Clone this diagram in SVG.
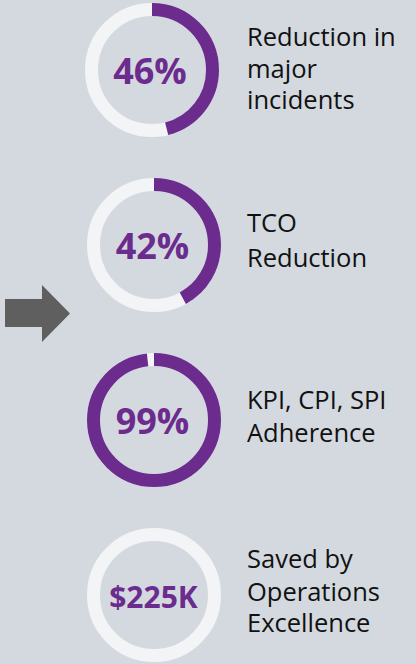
<svg xmlns="http://www.w3.org/2000/svg" width="416" height="664" viewBox="0 0 416 664">
<style>
.bg{fill:none;stroke:#f2f4f6;stroke-width:13}
.arc{fill:none;stroke:#6b2c8e;stroke-width:13}
.val{font-family:"Open Sans","Noto Sans",sans-serif;font-weight:bold;font-size:36px;fill:#6b2c8e;text-anchor:middle}
.lbl{font-family:"Open Sans","Noto Sans",sans-serif;font-size:25.5px;fill:#111111}
</style>
<rect width="416" height="664" fill="#d4d9df"/>
<g id="arrow">
<polygon points="5,299 42,299 42,285 70,313.5 42,342 42,327 5,327" fill="#5f5f5f"/>
</g>
<g id="node1">
<circle class="bg" cx="152" cy="70" r="60.5"/>
<circle class="arc" cx="152" cy="70" r="60.5" stroke-dasharray="174.9 400" transform="rotate(-90 152 70)"/>
<text class="val" x="150" y="84">46%</text>
<text class="lbl" x="247" y="46">Reduction in</text>
<text class="lbl" x="247" y="78">major</text>
<text class="lbl" x="247" y="109">incidents</text>
</g>
<g id="node2">
<circle class="bg" cx="154" cy="245" r="60.5"/>
<circle class="arc" cx="154" cy="245" r="60.5" stroke-dasharray="159.7 400" transform="rotate(-90 154 245)"/>
<text class="val" x="152.5" y="259">42%</text>
<text class="lbl" x="247" y="232">TCO</text>
<text class="lbl" x="247" y="267">Reduction</text>
</g>
<g id="node3">
<circle class="bg" cx="154" cy="420" r="60.5"/>
<circle class="arc" cx="154" cy="420" r="60.5" stroke-dasharray="373 400" transform="rotate(-90 154 420)"/>
<text class="val" x="152.5" y="434">99%</text>
<text class="lbl" x="247" y="409">KPI, CPI, SPI</text>
<text class="lbl" x="247" y="442">Adherence</text>
</g>
<g id="node4">
<circle class="bg" cx="154" cy="595" r="60.5"/>
<text class="val" x="153.5" y="608" style="font-size:30px">$225K</text>
<text class="lbl" x="247" y="568">Saved by</text>
<text class="lbl" x="247" y="601">Operations</text>
<text class="lbl" x="247" y="632">Excellence</text>
</g>
</svg>
